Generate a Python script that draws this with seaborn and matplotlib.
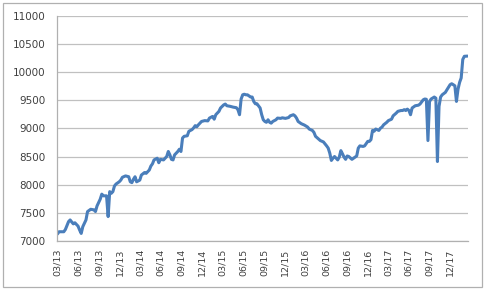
import numpy as np
import pandas as pd
import matplotlib
matplotlib.use("Agg")
import matplotlib.pyplot as plt
import matplotlib.dates as mdates
from matplotlib.patches import Rectangle
import seaborn as sns

start_date = "2013-03-01"
weeks = [0, 1, 4, 5, 7, 8, 10, 11, 13, 14, 15, 16, 18, 19, 21, 23, 24, 25, 27, 28,
         29, 31, 32, 33, 34, 35, 36, 37, 39, 40, 41, 43, 45, 46, 47, 48, 49, 50, 52, 53,
         55, 56, 58, 59, 60, 61, 63, 64, 65, 67, 68, 69, 70, 71, 72, 73, 74, 76, 77, 78,
         79, 80, 82, 83, 85, 86, 87, 88, 89, 91, 93, 95, 96, 98, 99, 100, 102, 103, 105, 106,
         107, 109, 111, 113, 114, 115, 116, 117, 118, 119, 120, 121, 122, 123, 124, 125, 126, 128, 129, 130,
         131, 132, 133, 134, 135, 136, 138, 139, 141, 142, 144, 146, 147, 149, 150, 151, 152, 154, 156, 158,
         159, 161, 162, 163, 165, 166, 168, 169, 170, 171, 172, 173, 174, 175, 177, 178, 179, 180, 181, 182,
         183, 184, 186, 187, 189, 190, 191, 193, 194, 196, 197, 198, 199, 200, 201, 203, 204, 205, 206, 208,
         209, 211, 212, 214, 215, 217, 218, 219, 220, 221, 222, 223, 224, 226, 228, 229, 231, 232, 233, 234,
         235, 236, 238, 239, 240, 241, 242, 243, 245, 246, 248, 249, 250, 251, 252, 253, 254, 255, 256, 257,
         259]
values = [7120, 7160, 7160, 7200, 7340, 7370, 7300, 7320, 7260, 7190, 7130, 7250, 7370, 7520, 7560, 7550, 7520, 7620, 7740, 7830,
          7800, 7800, 7430, 7875, 7845, 7875, 7975, 8010, 8050, 8080, 8130, 8155, 8140, 8050, 8035, 8095, 8140, 8050, 8080, 8170,
          8215, 8200, 8260, 8330, 8370, 8440, 8470, 8390, 8450, 8440, 8470, 8500, 8590, 8530, 8450, 8440, 8530, 8590, 8630, 8590,
          8830, 8860, 8870, 8950, 8980, 9010, 9050, 9030, 9065, 9125, 9140, 9135, 9185, 9215, 9165, 9245, 9305, 9365, 9420, 9435,
          9405, 9395, 9380, 9370, 9333, 9245, 9525, 9600, 9610, 9600, 9600, 9580, 9560, 9560, 9480, 9440, 9440, 9365, 9245, 9155,
          9125, 9110, 9155, 9110, 9095, 9125, 9155, 9185, 9180, 9190, 9180, 9195, 9225, 9245, 9225, 9185, 9125, 9085, 9060, 9025,
          8990, 8965, 8930, 8860, 8810, 8785, 8760, 8725, 8690, 8650, 8560, 8430, 8470, 8500, 8440, 8490, 8605, 8550, 8490, 8450,
          8510, 8500, 8450, 8470, 8510, 8650, 8690, 8680, 8690, 8770, 8770, 8800, 8965, 8950, 8990, 8965, 9005, 9025, 9065, 9110,
          9140, 9165, 9225, 9275, 9305, 9320, 9320, 9335, 9320, 9345, 9320, 9245, 9365, 9405, 9415, 9435, 9510, 9525, 9520, 8785,
          9480, 9525, 9560, 9540, 8411, 9393, 9560, 9600, 9643, 9690, 9780, 9797, 9780, 9760, 9482, 9700, 9821, 9900, 10230, 10286,
          10290]
y_ticks = [7000, 7500, 8000, 8500, 9000, 9500, 10000, 10500, 11000]

dates = pd.Timestamp(start_date) + pd.to_timedelta(np.array(weeks) * 7, unit="D")
df = pd.DataFrame({"date": dates, "value": values})

sns.set_theme(style="white")
plt.rcParams["font.family"] = ["DejaVu Sans"]

fig = plt.figure(figsize=(4.87, 2.95), dpi=100)
ax = fig.add_axes([0.118, 0.184, 0.842, 0.761])

sns.lineplot(data=df, x="date", y="value", ax=ax, color="#4a7ebb", linewidth=2.2)

ax.set_ylim(7000, 11000)
ax.set_yticks(y_ticks)
ax.set_xlim(pd.Timestamp(start_date), dates[-1])
ax.xaxis.set_major_locator(mdates.MonthLocator(bymonth=[3, 6, 9, 12]))
ax.xaxis.set_major_formatter(mdates.DateFormatter("%m/%y"))
ax.grid(axis="y", color="#c0c0c0", linewidth=0.9)
ax.set_axisbelow(True)
ax.set_xlabel("")
ax.set_ylabel("")

for side in ["top", "right"]:
    ax.spines[side].set_visible(False)
for side in ["left", "bottom"]:
    ax.spines[side].set_color("#b0b0b0")
    ax.spines[side].set_linewidth(0.9)

ax.tick_params(axis="y", length=0, pad=8.5, labelsize=7.5, labelcolor="#404040")
ax.tick_params(axis="x", length=3.5, width=0.8, color="#b0b0b0", pad=2,
               labelsize=6.8, labelcolor="#404040", labelrotation=90)

fig.patches.append(Rectangle((3 / 487, 8 / 295), 479 / 487, 284 / 295,
                             transform=fig.transFigure, fill=False,
                             edgecolor="#b0b0b0", linewidth=0.9))

fig.savefig("out.png", dpi=100)
